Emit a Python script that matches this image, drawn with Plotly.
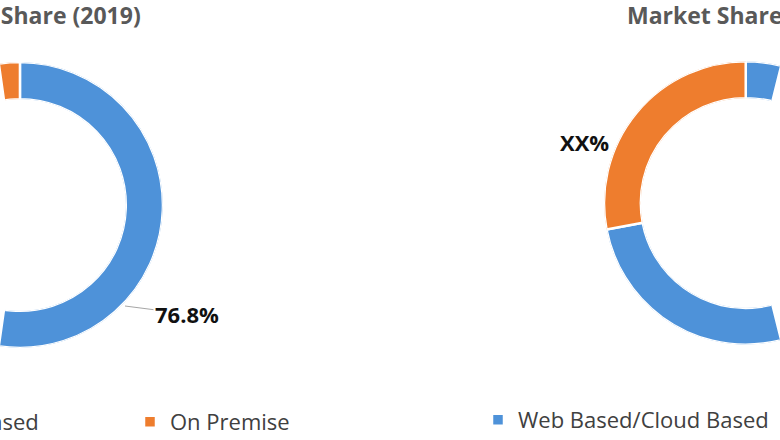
import numpy as np
import plotly.graph_objects as go

# data
categories = ["Web Based/Cloud Based", "On Premise"]
share_2019 = [76.8, 23.2]
share_forecast = [72.0, 28.0]          # forecast split, shown as "XX%" in the source
titles = ["Market Share (2019)", "Market Share (2027)"]
label_forecast = "XX%"
colors = ["#4E92D9", "#EE7D2E"]

W, H = 780, 440


def px_x(v):
    return v / W


def px_y(v):
    return 1 - v / H


def slices(values):
    widths = np.asarray(values, dtype=float) / np.sum(values) * 360
    return np.cumsum(widths) - widths / 2, widths


fig = go.Figure()
charts = [("polar", ["legend", "legend2"], share_2019),
          ("polar2", ["legend3", "legend4"], share_forecast)]
for polar, legends, values in charts:
    thetas, widths = slices(values)
    for i, (name, color) in enumerate(zip(categories, colors)):
        fig.add_trace(go.Barpolar(
            r=[1], theta=[thetas[i]], width=[widths[i]], name=name,
            marker=dict(color=color, line=dict(color="white", width=2.5)),
            subplot=polar, legend=legends[i], hoverinfo="skip",
        ))

ring = dict(
    hole=0.74, bgcolor="rgba(0,0,0,0)",
    radialaxis=dict(range=[0, 1], visible=False),
    angularaxis=dict(direction="clockwise", rotation=90, visible=False),
)

title_font = dict(family="Open Sans", size=23, color="#595959", weight="bold")
label_font = dict(family="Open Sans", size=22, color="#111111", weight="bold")
legend_font = dict(family="Open Sans", size=22, color="#404040")


def legend_at(x, y):
    return dict(orientation="h", x=px_x(x), xanchor="left", y=px_y(y),
                yanchor="middle", font=legend_font, bgcolor="rgba(0,0,0,0)",
                itemclick=False)


fig.update_layout(
    width=W, height=H,
    margin=dict(l=0, r=0, t=0, b=0, autoexpand=False),
    paper_bgcolor="white",
    font=dict(family="Open Sans"),
    showlegend=True,
    polar=dict(domain=dict(x=[0, px_x(163)], y=[px_y(348), px_y(62)]),
               sector=[-98, 98], **ring),
    polar2=dict(domain=dict(x=[px_x(604), 1], y=[px_y(345), px_y(61)]),
                sector=[76, 284], **ring),
    legend=legend_at(-252, 422),
    legend2=legend_at(130, 422),
    legend3=legend_at(478, 420),
    legend4=legend_at(800, 420),
    annotations=[
        dict(text=titles[0], x=px_x(143), y=px_y(15), xref="paper", yref="paper",
             xanchor="right", yanchor="middle", showarrow=False, font=title_font),
        dict(text=titles[1], x=px_x(625), y=px_y(15), xref="paper", yref="paper",
             xanchor="left", yanchor="middle", showarrow=False, font=title_font),
        dict(text=f"{share_2019[0]}%", x=px_x(125), y=px_y(306), xref="paper", yref="paper",
             ax=62, ay=8, showarrow=True, arrowhead=0, arrowwidth=1,
             arrowcolor="#A6A6A6", font=label_font),
        dict(text=label_forecast, x=px_x(584), y=px_y(142), xref="paper", yref="paper",
             xanchor="center", yanchor="middle", showarrow=False, font=label_font),
    ],
)

# drop the browser's default 8px body margin so the figure sits at the window corner
fig.write_html("out.html", config={"displayModeBar": False},
               post_script="document.body.style.margin = '0';")
